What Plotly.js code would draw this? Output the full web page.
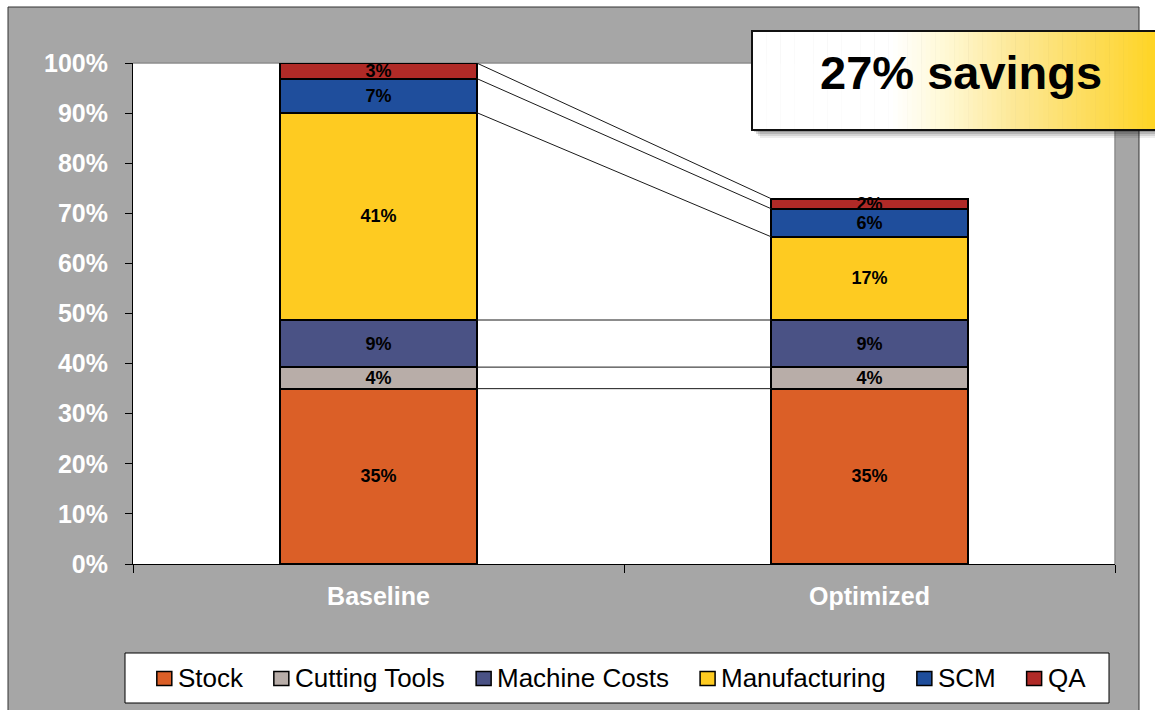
<!DOCTYPE html>
<html>
<head>
<meta charset="utf-8">
<script src="https://cdn.plot.ly/plotly-3.0.1.min.js"></script>
<style>
  html, body { margin: 0; padding: 0; background: #ffffff; }
  #chart { width: 1155px; height: 710px; }
</style>
</head>
<body>
<div id="chart"></div>
<script>
// Cost breakdown per scenario, in % of the baseline total
const scenarios = ['Baseline', 'Optimized'];
const costNames = ['Stock', 'Cutting Tools', 'Machine Costs', 'Manufacturing', 'SCM', 'QA'];
const stock = [35.0, 35.0];
const cuttingTools = [4.3, 4.3];
const machineCosts = [9.4, 9.4];
const manufacturing = [41.4, 16.6];
const scm = [6.8, 5.6];
const qa = [3.1, 2.0];
const yTickValues = [0, 10, 20, 30, 40, 50, 60, 70, 80, 90, 100];

const costColors = ['#DB5F27', '#B8ADA8', '#4A5285', '#FECB21', '#1F4E9C', '#B02A27'];
const series = [stock, cuttingTools, machineCosts, manufacturing, scm, qa];

const FONT = '"Liberation Sans", Arial, Helvetica, sans-serif';
const W = 1155, H = 710;
const M = { l: 133, r: 40, t: 63, b: 146 };
const plotW = W - M.l - M.r, plotH = H - M.t - M.b;
const BAR_W = 0.4;

// pixel -> paper coordinate helpers for decorations
const px = x => (x - M.l) / plotW;
const py = y => (H - M.b - y) / plotH;

// stacked bars
const traces = series.map((vals, i) => ({
  type: 'bar',
  name: costNames[i],
  x: scenarios,
  y: vals,
  width: BAR_W,
  marker: { color: costColors[i], line: { color: '#000000', width: 2 } },
  texttemplate: '%{y:.0f}%',
  textposition: 'inside',
  insidetextanchor: 'middle',
  textangle: 0,
  constraintext: 'none',
  textfont: { family: FONT, size: 18, color: '#000000', weight: 'bold' },
  hoverinfo: 'skip',
  showlegend: false
}));

// cumulative segment tops for each scenario
const tops = scenarios.map((_, s) => {
  let acc = 0;
  return series.map(vals => (acc += vals[s]));
});

const shapes = [];

// grey panel behind the chart
shapes.push({
  type: 'rect', xref: 'paper', yref: 'paper', layer: 'below',
  x0: px(8), x1: px(1139), y0: py(716), y1: py(7),
  fillcolor: '#A6A6A6', line: { color: '#333333', width: 1 }
});
// white plotting area
shapes.push({
  type: 'rect', xref: 'paper', yref: 'paper', layer: 'below',
  x0: 0, x1: 1, y0: 0, y1: 1,
  fillcolor: '#FFFFFF', line: { width: 0 }
});
// top and right frame of the plotting area
shapes.push({ type: 'line', xref: 'paper', yref: 'paper', layer: 'below',
  x0: 0, x1: 1, y0: 1, y1: 1, line: { color: '#8C8C8C', width: 1.5 } });
shapes.push({ type: 'line', xref: 'paper', yref: 'paper', layer: 'below',
  x0: 1, x1: 1, y0: 0, y1: 1, line: { color: '#8C8C8C', width: 1.5 } });

// connectors between matching segment tops of the two bars
series.forEach((_, k) => {
  shapes.push({
    type: 'line', xref: 'x', yref: 'y', layer: 'above',
    x0: 0 + BAR_W / 2, x1: 1 - BAR_W / 2,
    y0: tops[0][k], y1: tops[1][k],
    line: { color: '#1A1A1A', width: 1 }
  });
});

// savings call-out box: soft shadow, gradient fill, border
const box = { x0: 752, x1: 1175, y0: 31, y1: 130 };
[[8, 0.07], [6, 0.1], [4, 0.14], [2, 0.18]].forEach(([o, a]) => {
  shapes.push({
    type: 'rect', xref: 'paper', yref: 'paper', layer: 'above',
    x0: px(box.x0 + o), x1: px(box.x1 + o), y0: py(box.y1 + o), y1: py(box.y0 + o),
    fillcolor: `rgba(0,0,0,${a})`, line: { width: 0 }
  });
});
const gradStops = [
  [0.00, [255, 255, 255]],
  [0.33, [255, 255, 255]],
  [0.45, [255, 249, 215]],
  [0.62, [253, 232, 150]],
  [0.80, [253, 220, 90]],
  [1.00, [255, 210, 20]]
];
function gradColor(t) {
  for (let i = 1; i < gradStops.length; i++) {
    const [t1, c1] = gradStops[i];
    const [t0, c0] = gradStops[i - 1];
    if (t <= t1) {
      const f = (t - t0) / (t1 - t0);
      const c = c0.map((v, j) => Math.round(v + (c1[j] - v) * f));
      return `rgb(${c[0]},${c[1]},${c[2]})`;
    }
  }
  const c = gradStops[gradStops.length - 1][1];
  return `rgb(${c[0]},${c[1]},${c[2]})`;
}
const STRIPS = 90;
const boxW = box.x1 - box.x0;
for (let i = 0; i < STRIPS; i++) {
  const a = box.x0 + boxW * i / STRIPS;
  const b = box.x0 + boxW * (i + 1) / STRIPS + 0.6;
  shapes.push({
    type: 'rect', xref: 'paper', yref: 'paper', layer: 'above',
    x0: px(a), x1: px(b), y0: py(box.y1), y1: py(box.y0),
    fillcolor: gradColor((i + 0.5) / STRIPS), line: { width: 0 }
  });
}
shapes.push({
  type: 'rect', xref: 'paper', yref: 'paper', layer: 'above',
  x0: px(box.x0), x1: px(box.x1), y0: py(box.y1), y1: py(box.y0),
  fillcolor: 'rgba(0,0,0,0)', line: { color: '#111111', width: 2 }
});

const totalOptimized = tops[1][tops[1].length - 1];
const savings = Math.round(100 - totalOptimized);

const annotations = [{
  xref: 'paper', yref: 'paper', x: px(961), y: py(72),
  xanchor: 'center', yanchor: 'middle', showarrow: false,
  text: `${savings}% savings`,
  font: { family: FONT, size: 47, color: '#000000', weight: 'bold' }
}];

// legend: framed box with square swatches
const LEG_FONT = 26;
const legBox = { x0: 125, x1: 1109, y0: 653, y1: 703 };
shapes.push({
  type: 'rect', xref: 'paper', yref: 'paper', layer: 'above',
  x0: px(legBox.x0), x1: px(legBox.x1), y0: py(legBox.y1), y1: py(legBox.y0),
  fillcolor: '#FFFFFF', line: { color: '#000000', width: 1 }
});
const ctx = document.createElement('canvas').getContext('2d');
ctx.font = `${LEG_FONT}px ${FONT}`;
const SW = 15, SW_GAP = 6, ITEM_GAP = 31;
const textWidths = costNames.map(n => ctx.measureText(n).width);
const totalLeg = textWidths.reduce((s, w) => s + SW + SW_GAP + w, 0) + ITEM_GAP * (costNames.length - 1);
let lx = 621 - totalLeg / 2;
const legY = 678.5;
costNames.forEach((name, i) => {
  shapes.push({
    type: 'rect', xref: 'paper', yref: 'paper', layer: 'above',
    x0: px(lx), x1: px(lx + SW), y0: py(legY + 7), y1: py(legY - 7),
    fillcolor: costColors[i], line: { color: '#000000', width: 1.5 }
  });
  annotations.push({
    xref: 'paper', yref: 'paper', x: px(lx + SW + SW_GAP - 1), y: py(legY - 1),
    xanchor: 'left', yanchor: 'middle', showarrow: false,
    text: name, borderpad: 0,
    font: { family: FONT, size: LEG_FONT, color: '#000000' }
  });
  lx += SW + SW_GAP + textWidths[i] + ITEM_GAP;
});

const layout = {
  width: W, height: H,
  margin: M,
  paper_bgcolor: '#FFFFFF',
  plot_bgcolor: '#FFFFFF',
  barmode: 'stack',
  showlegend: false,
  hovermode: false,
  xaxis: {
    type: 'category',
    range: [-0.5, 1.5],
    showline: true, linecolor: '#000000', linewidth: 1,
    ticks: 'outside', tickson: 'boundaries', ticklen: 8, tickcolor: '#000000', tickwidth: 1,
    showgrid: false, zeroline: false,
    tickfont: { family: FONT, size: 25, color: '#FFFFFF', weight: 'bold' },
    ticklabelstandoff: 10
  },
  yaxis: {
    range: [0, 100],
    tickvals: yTickValues,
    ticktext: yTickValues.map(v => v + '%'),
    showline: true, linecolor: '#000000', linewidth: 1,
    ticks: 'outside', ticklen: 7, tickcolor: '#000000', tickwidth: 1,
    showgrid: false, zeroline: false,
    tickfont: { family: FONT, size: 25, color: '#FFFFFF', weight: 'bold' },
    ticklabelstandoff: 12
  },
  shapes: shapes,
  annotations: annotations
};

Plotly.newPlot('chart', traces, layout, { displayModeBar: false, staticPlot: true });
</script>
</body>
</html>
